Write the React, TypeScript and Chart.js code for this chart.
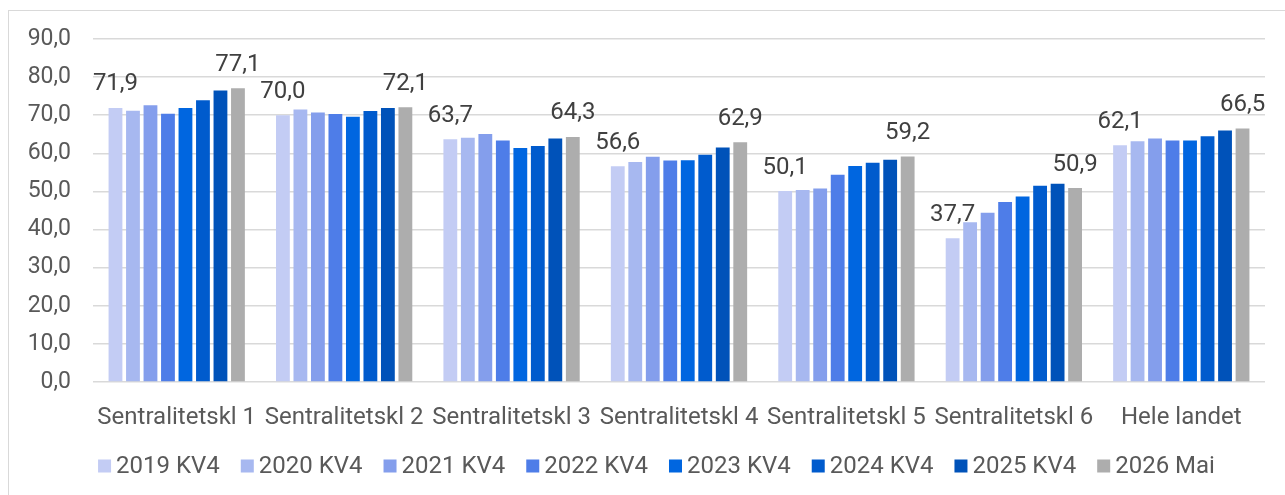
import React, { useEffect, useRef } from 'react';
import { Chart, registerables } from 'chart.js';

Chart.register(...registerables);

const categories = [
  'Sentralitetskl 1',
  'Sentralitetskl 2',
  'Sentralitetskl 3',
  'Sentralitetskl 4',
  'Sentralitetskl 5',
  'Sentralitetskl 6',
  'Hele landet',
];

const seriesLabels = ['2019 KV4', '2020 KV4', '2021 KV4', '2022 KV4', '2023 KV4', '2024 KV4', '2025 KV4', '2026 Mai'];
const seriesColors = ['#C3CCF4', '#A7B8F0', '#849EEC', '#4E7DE8', '#0066E0', '#005BCD', '#0052B9', '#ADADAD'];

const v2019 = [71.9, 70.0, 63.7, 56.6, 50.1, 37.7, 62.1];
const v2020 = [71.2, 71.5, 64.1, 57.7, 50.4, 41.9, 63.2];
const v2021 = [72.6, 70.7, 65.1, 59.1, 50.8, 44.4, 63.9];
const v2022 = [70.4, 70.3, 63.4, 58.1, 54.4, 47.2, 63.4];
const v2023 = [71.9, 69.6, 61.4, 58.2, 56.7, 48.7, 63.4];
const v2024 = [73.9, 71.1, 61.9, 59.6, 57.5, 51.5, 64.5];
const v2025 = [76.5, 71.9, 63.9, 61.5, 58.3, 52.0, 66.0];
const v2026 = [77.1, 72.1, 64.3, 62.9, 59.2, 50.9, 66.5];

const seriesValues = [v2019, v2020, v2021, v2022, v2023, v2024, v2025, v2026];
const labeledSeries = [0, 7];

const yMin = 0;
const yMax = 90;
const yStep = 10;

const FONT = 'Roboto';
const fmt = (v: number) => v.toFixed(1).replace('.', ',');

const dataLabelPlugin = {
  id: 'dataLabels',
  afterDatasetsDraw(chart: any) {
    const ctx = chart.ctx;
    ctx.save();
    ctx.font = `24px ${FONT}`;
    ctx.fillStyle = '#404040';
    ctx.textAlign = 'center';
    ctx.textBaseline = 'alphabetic';
    labeledSeries.forEach((di) => {
      const meta = chart.getDatasetMeta(di);
      meta.data.forEach((bar: any, i: number) => {
        const v = chart.data.datasets[di].data[i];
        ctx.fillText(fmt(v), bar.x, bar.y - 17.5);
      });
    });
    ctx.restore();
  },
};

const legendPlugin = {
  id: 'customLegend',
  afterDraw(chart: any) {
    const ctx = chart.ctx;
    ctx.save();
    ctx.font = `24px ${FONT}`;
    ctx.textBaseline = 'middle';
    ctx.textAlign = 'left';
    const box = 13;
    const gapText = 5;
    const gapItem = 21;
    const widths = chart.data.datasets.map((d: any) => ctx.measureText(d.label).width);
    const total = widths.reduce((a: number, w: number) => a + box + gapText + w, 0) + gapItem * (widths.length - 1);
    let x = 647.5 - total / 2;
    const cy = 455;
    chart.data.datasets.forEach((d: any, i: number) => {
      ctx.fillStyle = d.backgroundColor;
      ctx.fillRect(x, cy - box / 2, box, box);
      ctx.fillStyle = '#595959';
      ctx.fillText(d.label, x + box + gapText, cy + 1);
      x += box + gapText + widths[i] + gapItem;
    });
    ctx.restore();
  },
};

export default function App() {
  const ref = useRef<HTMLCanvasElement>(null);

  useEffect(() => {
    if (!ref.current) return;
    const chart = new Chart(ref.current, {
      type: 'bar',
      data: {
        labels: categories,
        datasets: seriesLabels.map((label, i) => ({
          label,
          data: seriesValues[i],
          backgroundColor: seriesColors[i],
          borderWidth: 0,
          barPercentage: 0.79,
          categoryPercentage: 0.836,
        })),
      },
      options: {
        responsive: false,
        animation: false,
        devicePixelRatio: 1,
        layout: { padding: { top: 28, right: 20, left: 0, bottom: 0 } },
        plugins: {
          legend: { display: false },
          tooltip: { enabled: false },
        },
        scales: {
          x: {
            grid: { display: false },
            border: { display: false },
            ticks: {
              color: '#595959',
              font: { family: FONT, size: 24 },
              padding: 14,
              maxRotation: 0,
              autoSkip: false,
            },
            afterFit: (s: any) => {
              s.height = 113;
              s.paddingLeft = 0;
              s.paddingRight = 0;
            },
          },
          y: {
            min: yMin,
            max: yMax,
            grid: { color: '#D9D9D9', lineWidth: 1.5, drawTicks: false },
            border: { display: false },
            ticks: {
              stepSize: yStep,
              color: '#595959',
              font: { family: FONT, size: 23 },
              padding: 22,
              callback: (v: any) => fmt(Number(v)),
            },
            afterFit: (s: any) => {
              s.width = 84;
              s.paddingTop = 0;
              s.paddingBottom = 0;
            },
          },
        },
      },
      plugins: [dataLabelPlugin, legendPlugin],
    });
    return () => chart.destroy();
  }, []);

  return (
    <div
      style={{
        position: 'fixed',
        left: 8,
        top: 10,
        width: 1300,
        height: 500,
        borderTop: '1px solid #D9D9D9',
        borderLeft: '1px solid #D9D9D9',
        background: '#fff',
      }}
    >
      <canvas ref={ref} width={1276} height={484} style={{ display: 'block', width: 1276, height: 484 }} />
    </div>
  );
}
